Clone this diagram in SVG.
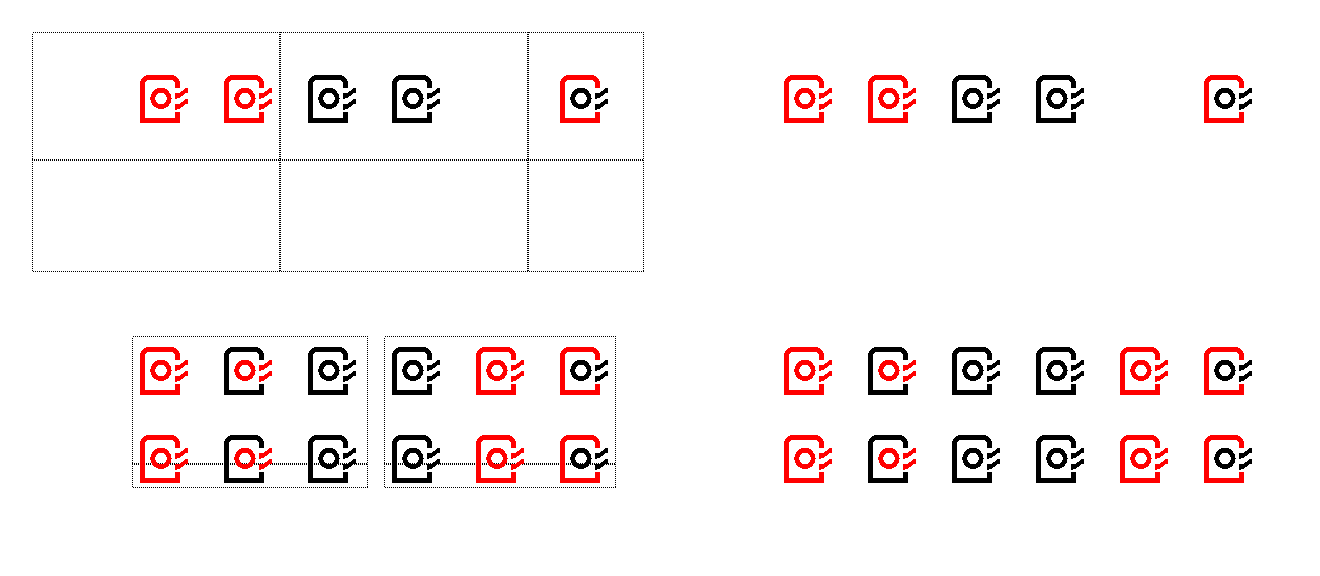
<svg xmlns="http://www.w3.org/2000/svg" xmlns:xlink="http://www.w3.org/1999/xlink" width="1320" height="576" viewBox="0 0 1320 576">
<style>
svg{background:#fff}
*{shape-rendering:crispEdges}
.g{fill:none;stroke:#000;stroke-width:1;stroke-dasharray:1 1}
.i{fill:none;stroke:#000;stroke-width:2;stroke-dasharray:1 1}
.b{fill:none;stroke-width:5}
.c{fill:none;stroke-width:4.800}
.r{stroke:#f00}.k{stroke:#000}
.rf{fill:#f00}.kf{fill:#000}
</style>
<defs>
<path id="body" class="b" d="M37.500 12.500V9A6.500 6.500 0 0 0 31 2.500H9A6.500 6.500 0 0 0 2.500 9V45.500H37.500V37"/>
<circle id="mark" class="c" cx="21" cy="23.500" r="8.200"/>
<path id="sl" d="M35 18L40 17.500L46 13H48V18H46L40 22.500L35 24ZM35 29L40 28.500L46 24H48V29H46L40 33.500L35 35Z"/>
<g id="rr"><use xlink:href="#body" class="r"/><use xlink:href="#mark" class="r"/><use xlink:href="#sl" class="rf"/></g>
<g id="kk"><use xlink:href="#body" class="k"/><use xlink:href="#mark" class="k"/><use xlink:href="#sl" class="kf"/></g>
<g id="kr"><use xlink:href="#body" class="k"/><use xlink:href="#mark" class="r"/><use xlink:href="#sl" class="rf"/></g>
<g id="rk"><use xlink:href="#body" class="r"/><use xlink:href="#mark" class="k"/><use xlink:href="#sl" class="kf"/></g>
</defs>
<g id="grid-top-left">
<path class="g" d="M32.500 32.500H643.500V271.500H32.500Z"/>
<path class="i" d="M280 32V271M528 32V271M32 160H643"/>
</g>
<g id="grid-bottom-left">
<path class="g" d="M132.500 336.500H367.500V487.500H132.500Z"/>
<path class="g" d="M384.500 336.500H615.500V487.500H384.500Z"/>
<path class="i" d="M132 464H367M384 464H615"/>
</g>
<g id="icons-top-left">
<use xlink:href="#rr" x="140" y="75"/><use xlink:href="#rr" x="224" y="75"/><use xlink:href="#kk" x="308" y="75"/><use xlink:href="#kk" x="392" y="75"/><use xlink:href="#rk" x="560" y="75"/>
</g>
<g id="icons-top-right">
<use xlink:href="#rr" x="784" y="75"/><use xlink:href="#rr" x="868" y="75"/><use xlink:href="#kk" x="952" y="75"/><use xlink:href="#kk" x="1036" y="75"/><use xlink:href="#rk" x="1204" y="75"/>
</g>
<g id="icons-bottom-left">
<use xlink:href="#rr" x="140" y="347"/><use xlink:href="#kr" x="224" y="347"/><use xlink:href="#kk" x="308" y="347"/><use xlink:href="#kk" x="392" y="347"/><use xlink:href="#rr" x="476" y="347"/><use xlink:href="#rk" x="560" y="347"/>
<use xlink:href="#rr" x="140" y="435"/><use xlink:href="#kr" x="224" y="435"/><use xlink:href="#kk" x="308" y="435"/><use xlink:href="#kk" x="392" y="435"/><use xlink:href="#rr" x="476" y="435"/><use xlink:href="#rk" x="560" y="435"/>
</g>
<g id="icons-bottom-right">
<use xlink:href="#rr" x="784" y="347"/><use xlink:href="#kr" x="868" y="347"/><use xlink:href="#kk" x="952" y="347"/><use xlink:href="#kk" x="1036" y="347"/><use xlink:href="#rr" x="1120" y="347"/><use xlink:href="#rk" x="1204" y="347"/>
<use xlink:href="#rr" x="784" y="435"/><use xlink:href="#kr" x="868" y="435"/><use xlink:href="#kk" x="952" y="435"/><use xlink:href="#kk" x="1036" y="435"/><use xlink:href="#rr" x="1120" y="435"/><use xlink:href="#rk" x="1204" y="435"/>
</g>
</svg>
